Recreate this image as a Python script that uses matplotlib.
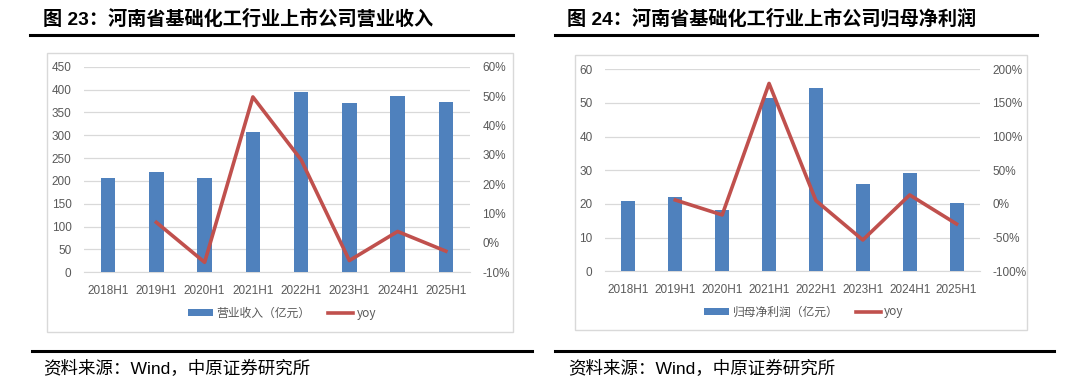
import numpy as np
import matplotlib
matplotlib.use('Agg')
import matplotlib.pyplot as plt
from matplotlib.patches import Rectangle
from matplotlib.lines import Line2D
from matplotlib.ticker import FuncFormatter

plt.rcParams['font.family'] = ['Liberation Sans', 'Noto Sans CJK SC', 'DejaVu Sans']

# data
periods = ['2018H1', '2019H1', '2020H1', '2021H1', '2022H1', '2023H1', '2024H1', '2025H1']
revenue = [206, 219, 206, 308, 394, 371, 385, 373]
revenue_yoy = [np.nan, 7.0, -6.6, 49.7, 28.3, -6.0, 3.9, -2.8]
profit = [20.9, 22.2, 18.3, 51.4, 54.5, 25.8, 29.2, 20.4]
profit_yoy = [np.nan, 5.9, -16.3, 179, 5.0, -53.5, 13.4, -29.7]

W, H = 1080, 385
BLUE = '#4F81BD'
RED = '#C0504D'
GRID = '#D9D9D9'
TXT = '#595959'

fig = plt.figure(figsize=(W / 100, H / 100), dpi=100)


def px_axes(x0, x1, ytop, ybot):
    return fig.add_axes([x0 / W, (H - ybot) / H, (x1 - x0) / W, (ybot - ytop) / H])


def hline(x0, x1, y, lw=2.2):
    fig.add_artist(Line2D([x0 / W, x1 / W], [(H - y) / H, (H - y) / H],
                          color='black', lw=lw, transform=fig.transFigure))


def draw_panel(box, area, bars, yoy, ylim, ystep, y2lim, y2step, bar_label, legend_xy):
    # outer chart border
    bx0, by0, bx1, by1 = box
    fig.add_artist(Rectangle((bx0 / W, (H - by1) / H), (bx1 - bx0) / W, (by1 - by0) / H,
                             transform=fig.transFigure, fill=False, edgecolor=GRID, lw=1.0))
    ax = px_axes(*area)
    x = np.arange(len(periods))
    ax.bar(x, bars, width=0.3, color=BLUE, zorder=3, label=bar_label)
    ax.set_xlim(-0.5, len(periods) - 0.5)
    ax.set_ylim(*ylim)
    ax.set_yticks(np.arange(ylim[0], ylim[1] + ystep / 2, ystep))
    ax.set_xticks(x)
    ax.set_xticklabels(periods)
    ax.grid(axis='y', color=GRID, lw=0.9, zorder=0)
    for s in ['top', 'right', 'left']:
        ax.spines[s].set_visible(False)
    ax.spines['bottom'].set_color(GRID)
    ax.tick_params(length=0, colors=TXT, labelsize=8.5)
    ax.tick_params(axis='x', pad=9)
    ax.tick_params(axis='y', pad=9)

    ax2 = ax.twinx()
    ax2.plot(x, yoy, color=RED, lw=2.6, zorder=4, label='yoy')
    ax2.set_ylim(*y2lim)
    ax2.set_yticks(np.arange(y2lim[0], y2lim[1] + y2step / 2, y2step))
    ax2.yaxis.set_major_formatter(FuncFormatter(lambda v, p: '%d%%' % v))
    for s in ['top', 'right', 'left', 'bottom']:
        ax2.spines[s].set_visible(False)
    ax2.tick_params(length=0, colors=TXT, labelsize=8.5, pad=9)

    h1, l1 = ax.get_legend_handles_labels()
    h2, l2 = ax2.get_legend_handles_labels()
    fig.legend(h1 + h2, l1 + l2, loc='center', ncol=2, frameon=False,
               bbox_to_anchor=(legend_xy[0] / W, (H - legend_xy[1]) / H),
               prop={'family': ['Noto Sans CJK SC', 'DejaVu Sans'], 'size': 8.5},
               labelcolor=TXT, handlelength=2.1, handleheight=0.5, handletextpad=0.3,
               columnspacing=1.5)


draw_panel((47, 53, 513, 332), (84, 470, 66.7, 272.3), revenue, revenue_yoy,
           (0, 450), 50, (-10, 60), 10, '营业收入（亿元）', (282, 313))
draw_panel((575, 55, 1027, 330), (605, 980, 69.3, 271.3), profit, profit_yoy,
           (0, 60), 10, (-100, 200), 50, '归母净利润（亿元）', (804, 312))

# titles
fig.text(43 / W, (H - 19) / H, '图 23：河南省基础化工行业上市公司营业收入',
         fontsize=13.8, fontweight='bold', va='center', ha='left')
fig.text(567 / W, (H - 19) / H, '图 24：河南省基础化工行业上市公司归母净利润',
         fontsize=13.8, fontweight='bold', va='center', ha='left')
hline(30, 513, 34.5)
hline(555, 1037, 34.5)

# sources
hline(32, 532, 351)
hline(555, 1054, 351)
fig.text(43 / W, (H - 368) / H, '资料来源：Wind，中原证券研究所', fontsize=12.6,
         va='center', ha='left')
fig.text(568 / W, (H - 368) / H, '资料来源：Wind，中原证券研究所', fontsize=12.6,
         va='center', ha='left')

fig.savefig('out.png', dpi=100)
